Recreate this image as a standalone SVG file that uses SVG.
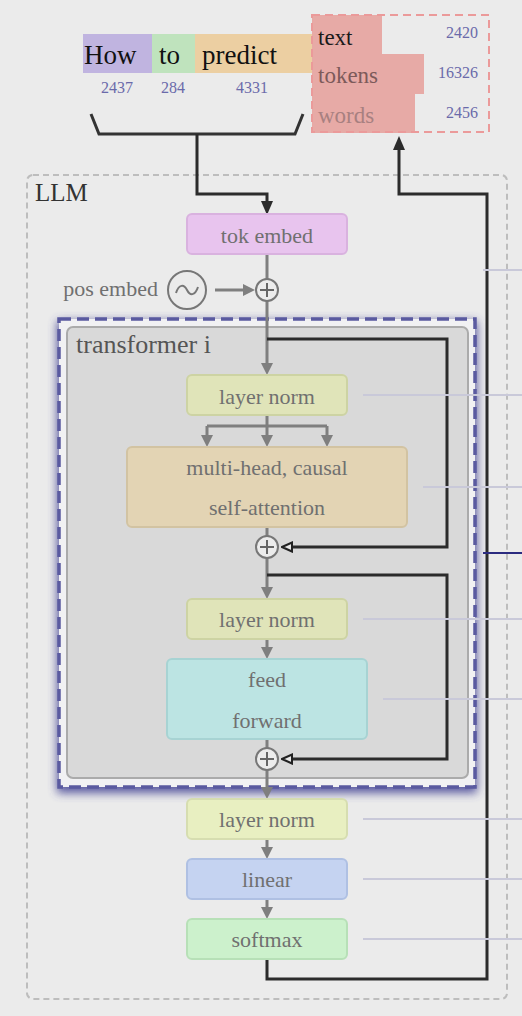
<svg xmlns="http://www.w3.org/2000/svg" width="522" height="1016" viewBox="0 0 522 1016">
<style>
.lbl{font-family:"Liberation Serif","Times New Roman",serif;font-size:22px;fill:#707070;text-anchor:middle}
.tok{font-family:"Liberation Serif","Times New Roman",serif;font-size:27px;fill:#111}
.num{font-family:"Liberation Serif","Times New Roman",serif;font-size:16px;fill:#6a6aaa}
.leg{font-family:"Liberation Serif","Times New Roman",serif;font-size:23px}
.gl{stroke:#7f7f7f;stroke-width:3;fill:none}
.bl{stroke:#2b2b2b;stroke-width:3;fill:none}
.tick{stroke:#c9c9d9;stroke-width:2}
.node{stroke-width:2}
.plus circle{fill:#ececec;stroke:#777;stroke-width:2}
.plus path{stroke:#666;stroke-width:2;fill:none}
</style>
<defs>
<marker id="ag" markerUnits="userSpaceOnUse" markerWidth="12" markerHeight="12" viewBox="0 0 12 12" refX="0" refY="6" orient="auto"><path d="M0,0 L12,6 L0,12 z" fill="#7f7f7f"/></marker>
<marker id="ab" markerUnits="userSpaceOnUse" markerWidth="14" markerHeight="12" viewBox="0 0 14 12" refX="0" refY="6" orient="auto"><path d="M0,0 L14,6 L0,12 z" fill="#2b2b2b"/></marker>
<marker id="ao" markerUnits="userSpaceOnUse" markerWidth="12" markerHeight="12" viewBox="0 0 12 12" refX="1" refY="6" orient="auto"><path d="M1,1.5 L11,6 L1,10.5 z" fill="#e8e8e8" stroke="#222" stroke-width="2"/></marker>
<filter id="glow" x="-20%" y="-20%" width="140%" height="140%"><feGaussianBlur stdDeviation="5"/></filter>
</defs>
<rect width="522" height="1016" fill="#ebebeb"/>

<g id="input-tokens">
<rect x="83" y="34" width="70" height="39" fill="#c0b4e0"/>
<rect x="152" y="34" width="43" height="39" fill="#bfe3bd"/>
<rect x="195" y="34" width="117" height="39" fill="#eccfa2"/>
<text class="tok" x="84" y="64">How</text>
<text class="tok" x="159" y="64">to</text>
<text class="tok" x="202" y="64">predict</text>
<text class="num" x="117" y="93" text-anchor="middle">2437</text>
<text class="num" x="173" y="93" text-anchor="middle">284</text>
<text class="num" x="252" y="93" text-anchor="middle">4331</text>
<path d="M91,114 L99,134 H295 L303,114" fill="none" stroke="#333" stroke-width="3"/>
</g>

<g id="legend">
<path d="M312,15 H382 V54 H424 V94 H415 V133 H312 Z" fill="#e7aaa6"/>
<rect x="312" y="15" width="177" height="117" fill="none" stroke="#eb9a9a" stroke-width="2" stroke-dasharray="8,5"/>
<text class="leg" x="318" y="45" fill="#1a1a1a">text</text>
<text class="leg" x="318" y="83" fill="#7d5a5a">tokens</text>
<text class="leg" x="318" y="123" fill="#a88080">words</text>
<text class="num" x="478" y="38" text-anchor="end">2420</text>
<text class="num" x="478" y="78" text-anchor="end">16326</text>
<text class="num" x="478" y="118" text-anchor="end">2456</text>
</g>

<g id="llm">
<rect x="27" y="175" width="480" height="824" rx="6" fill="none" stroke="#bdbdbd" stroke-width="2" stroke-dasharray="6,4"/>
<text x="35" y="201" font-family="'Liberation Serif','Times New Roman',serif" font-size="25" fill="#333">LLM</text>
</g>

<g id="transformer">
<rect x="57" y="321" width="420" height="472" fill="#4a4a98" opacity="0.9" filter="url(#glow)"/>
<rect x="59" y="319" width="416" height="468" fill="#f1f1f3" stroke="#5a5aa0" stroke-width="3.5" stroke-dasharray="12,6"/>
<rect x="67" y="327" width="401" height="451" rx="6" fill="#d9d9d9" stroke="#ababab" stroke-width="2"/>
<text x="76" y="353" font-family="'Liberation Serif','Times New Roman',serif" font-size="26" fill="#555">transformer i</text>
</g>

<g id="connectors">
<path class="bl" d="M197,134 V194 H267 V201" marker-end="url(#ab)"/>
<path class="gl" d="M267,254 V280"/>
<path class="gl" d="M215,290 V290 H243" marker-end="url(#ag)"/>
<path class="gl" d="M267,301 V363" marker-end="url(#ag)"/>
<path class="bl" d="M267,339 H447 V547 H292" marker-end="url(#ao)"/>
<path class="gl" d="M267,415 V426"/>
<path class="gl" d="M207,426 H327"/>
<path class="gl" d="M207,426 V435" marker-end="url(#ag)"/>
<path class="gl" d="M267,426 V435" marker-end="url(#ag)"/>
<path class="gl" d="M327,426 V435" marker-end="url(#ag)"/>
<path class="gl" d="M267,527 V537"/>
<path class="gl" d="M267,558 V587" marker-end="url(#ag)"/>
<path class="bl" d="M267,575 H447 V759 H292" marker-end="url(#ao)"/>
<path class="gl" d="M267,639 V647" marker-end="url(#ag)"/>
<path class="gl" d="M267,739 V749"/>
<path class="gl" d="M267,770 V787" marker-end="url(#ag)"/>
<path class="gl" d="M267,839 V847" marker-end="url(#ag)"/>
<path class="gl" d="M267,899 V907" marker-end="url(#ag)"/>
<path class="bl" d="M267,959 V979 H487 V194 H399 V150" marker-end="url(#ab)"/>
<line class="tick" x1="483" y1="270" x2="522" y2="270"/>
<line class="tick" x1="363" y1="395" x2="522" y2="395"/>
<line class="tick" x1="423" y1="487" x2="522" y2="487"/>
<line class="tick" x1="363" y1="619" x2="522" y2="619"/>
<line class="tick" x1="383" y1="699" x2="522" y2="699"/>
<line class="tick" x1="363" y1="819" x2="522" y2="819"/>
<line class="tick" x1="363" y1="879" x2="522" y2="879"/>
<line class="tick" x1="363" y1="939" x2="522" y2="939"/>
<line x1="483" y1="553" x2="522" y2="553" stroke="#2b2b80" stroke-width="2"/>
</g>

<g id="tok-embed">
<rect class="node" x="187" y="214" width="160" height="40" rx="5" fill="#e8c4ee" stroke="#d9b2df"/>
<text class="lbl" x="267" y="243">tok embed</text>
</g>

<g id="pos-embed">
<text class="lbl" x="158" y="296" style="text-anchor:end">pos embed</text>
<circle cx="187" cy="290" r="19" fill="none" stroke="#777" stroke-width="2"/>
<path d="M176,293 C179,284 184,284 187,290 C190,296 195,296 198,287" fill="none" stroke="#777" stroke-width="2"/>
</g>

<g id="add-pos" class="plus">
<circle cx="267" cy="290" r="11"/><path d="M260,290 H274 M267,283 V297"/>
</g>

<g id="layer-norm-1">
<rect class="node" x="187" y="375" width="160" height="40" rx="5" fill="#e0e4b9" stroke="#cdd3a3"/>
<text class="lbl" x="267" y="404">layer norm</text>
</g>

<g id="attention">
<rect class="node" x="127" y="447" width="280" height="80" rx="5" fill="#e3d4b4" stroke="#d2c3a2"/>
<text class="lbl" x="267" y="475">multi-head, causal</text>
<text class="lbl" x="267" y="515">self-attention</text>
</g>

<g id="add-1" class="plus">
<circle cx="267" cy="547" r="11"/><path d="M260,547 H274 M267,540 V554"/>
</g>

<g id="layer-norm-2">
<rect class="node" x="187" y="599" width="160" height="40" rx="5" fill="#e0e4b9" stroke="#cdd3a3"/>
<text class="lbl" x="267" y="627">layer norm</text>
</g>

<g id="feed-forward">
<rect class="node" x="167" y="659" width="200" height="80" rx="5" fill="#bce4e3" stroke="#a7d3d3"/>
<text class="lbl" x="267" y="687">feed</text>
<text class="lbl" x="267" y="728">forward</text>
</g>

<g id="add-2" class="plus">
<circle cx="267" cy="759" r="11"/><path d="M260,759 H274 M267,752 V766"/>
</g>

<g id="layer-norm-3">
<rect class="node" x="187" y="799" width="160" height="40" rx="5" fill="#e8efc1" stroke="#d6ddb0"/>
<text class="lbl" x="267" y="827">layer norm</text>
</g>

<g id="linear">
<rect class="node" x="187" y="859" width="160" height="40" rx="5" fill="#c5d3f1" stroke="#afc0e3"/>
<text class="lbl" x="267" y="887">linear</text>
</g>

<g id="softmax">
<rect class="node" x="187" y="919" width="160" height="40" rx="5" fill="#ccf1cc" stroke="#b7e0b7"/>
<text class="lbl" x="267" y="947">softmax</text>
</g>
</svg>
